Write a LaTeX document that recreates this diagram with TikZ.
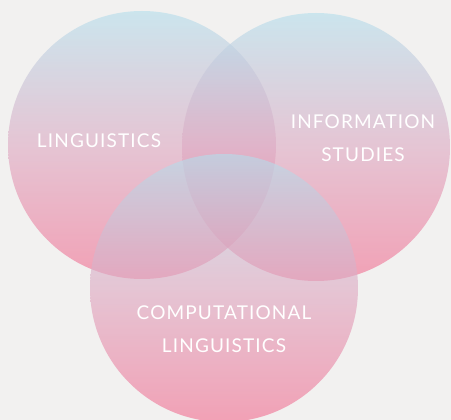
\documentclass[tikz,border=0pt]{standalone}
\usepackage{fontspec}
\setmainfont{Lato}
\newfontfamily\labelfont[LetterSpace=6]{Lato}
\definecolor{bgc}{RGB}{242,241,240}
\definecolor{topc}{RGB}{180,222,236}
\definecolor{midc}{RGB}{222,170,195}
\definecolor{botc}{RGB}{242,112,146}
\tikzset{
  venn/.style={circle, minimum size=268pt, inner sep=0pt, top color=topc, bottom color=botc, middle color=midc, fill opacity=0.62, draw=none},
  lbl/.style={text=white, font=\labelfont\fontsize{19}{19}\selectfont, inner sep=0pt, align=center, text opacity=1}
}
\begin{document}
\begin{tikzpicture}[x=1pt,y=-1pt]
\fill[bgc] (0,0) rectangle (451,420);
\useasboundingbox (0,0) rectangle (451,420);
\begin{scope}
\clip (0,0) rectangle (451,420);
\node[venn] (ling) at (142,145) {};
\node[venn] (info) at (316,147) {};
\node[venn] (comp) at (224,288) {};
\end{scope}
\node[lbl] (t1) at (99,141) {LINGUISTICS};
\node[lbl] (t2) at (363,122) {INFORMATION};
\node[lbl] (t3) at (363,155) {STUDIES};
\node[lbl] (t4) at (224,313) {COMPUTATIONAL};
\node[lbl] (t5) at (224,346) {LINGUISTICS};
\end{tikzpicture}
\end{document}
